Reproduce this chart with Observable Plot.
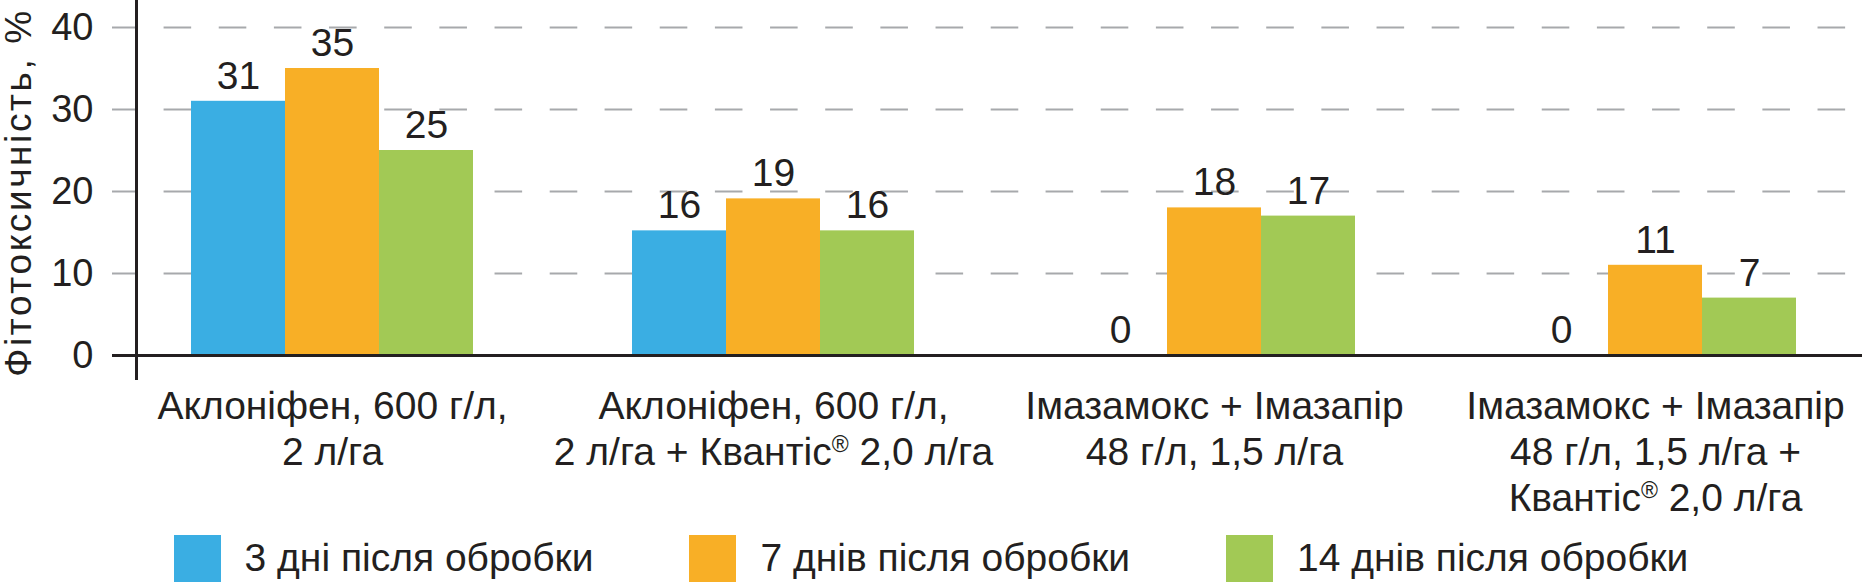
<!DOCTYPE html>
<html>
<head>
<meta charset="utf-8">
<script src="https://cdn.jsdelivr.net/npm/d3@7"></script>
<script src="https://cdn.jsdelivr.net/npm/@observablehq/plot@0.6"></script>
<style>
  html, body { margin: 0; padding: 0; background: #fff; }
  #chart { width: 1862px; }
  .legend {
    display: flex; justify-content: center; align-items: center;
    column-gap: 96px; height: 56px; padding-top: 0px; box-sizing: border-box;
    font-family: "Liberation Sans", Arial, sans-serif; font-size: 39px; color: #231f20;
    width: 1862px;
  }
  .legend .item { display: flex; align-items: center; }
  .legend .sw { width: 47px; height: 47px; margin-right: 24px; }
</style>
</head>
<body>
<div id="chart"></div>
<script>
const groups = [
  "Аклоніфен, 600 г/л,\n2 л/га",
  "Аклоніфен, 600 г/л,\n2 л/га + Квантіс® 2,0 л/га",
  "Імазамокс + Імазапір\n48 г/л, 1,5 л/га",
  "Імазамокс + Імазапір\n48 г/л, 1,5 л/га +\nКвантіс® 2,0 л/га"
];
const series = ["3 дні після обробки", "7 днів після обробки", "14 днів після обробки"];
const colors = ["#3aaee3", "#f8af26", "#a2c955"];

// bar heights
const day3 = [31, 15.2, 0, 0];
const day7 = [35, 19.1, 18, 11];
const day14 = [25, 15.2, 17, 7];
// printed value labels
const day3Labels = [31, 16, 0, 0];
const day7Labels = [35, 19, 18, 11];
const day14Labels = [25, 16, 17, 7];

const yTicks = [0, 10, 20, 30, 40];
const gridTicks = [10, 20, 30, 40];
const yTitle = "Фітотоксичність, %";

const values = [day3, day7, day14];
const labels = [day3Labels, day7Labels, day14Labels];
const data = groups.flatMap((g, i) => series.map((s, j) => ({
  group: g, series: s, value: values[j][i], label: String(labels[j][i])
})));

const font = "'Liberation Sans', Arial, sans-serif";
const ink = "#231f20";
const grey = "#a7a9ac";

const chart = Plot.plot({
  width: 1862,
  height: 530,
  marginLeft: 135,
  marginRight: 11,
  marginTop: 27,
  marginBottom: 175,
  style: {fontFamily: font, fontSize: "39px", color: ink, background: "white", overflow: "visible"},
  fx: {domain: groups, paddingInner: 0.1117, paddingOuter: 0, label: null},
  x: {domain: series, padding: 0, insetLeft: 54, insetRight: 54, axis: null},
  y: {domain: [0, 40], label: null},
  color: {domain: series, range: colors},
  marks: [
    Plot.ruleY(gridTicks, {stroke: grey, strokeWidth: 2, strokeDasharray: "27.58 27.58", strokeDashoffset: 27.58, insetRight: -49.3}),
    Plot.axisY({ticks: yTicks, tickSize: 24, tickPadding: 19, stroke: grey, strokeWidth: 2, fill: ink, fontSize: 38, label: null}),
    Plot.barY(data, {fx: "group", x: "series", y: "value", fill: "series"}),
    Plot.ruleY([0], {stroke: ink, strokeWidth: 3, insetLeft: -24, insetRight: -50}),
    Plot.frame({anchor: "left", facet: "super", stroke: ink, strokeWidth: 3, insetTop: -27, insetBottom: -23}),
    Plot.text(data, {fx: "group", x: "series", y: "value", text: "label", lineAnchor: "middle", dy: -25, fontSize: 39, fill: ink}),
    Plot.axisFx({anchor: "bottom", tickSize: 0, tickPadding: 31, fontSize: 39, lineHeight: 1.18, lineWidth: 100, fill: ink, label: null}),
    Plot.text([yTitle], {facet: "super", frameAnchor: "left", textAnchor: "middle", rotate: -90, dx: -117, dy: 1, fontSize: 37, fill: ink, lineAnchor: "middle", className: "ytitle"})
  ]
});

// letter-spaced y title as in the reference
chart.querySelectorAll(".ytitle text").forEach(t => t.setAttribute("letter-spacing", "2.6"));

// superscript the registered sign
chart.querySelectorAll("text, tspan").forEach(el => {
  Array.from(el.childNodes).forEach(node => {
    if (node.nodeType === 3 && node.nodeValue.includes("®")) {
      const parts = node.nodeValue.split("®");
      const frag = document.createDocumentFragment();
      parts.forEach((p, k) => {
        if (k > 0) {
          const sup = document.createElementNS("http://www.w3.org/2000/svg", "tspan");
          sup.setAttribute("baseline-shift", "super");
          sup.setAttribute("font-size", "23");
          sup.textContent = "®";
          frag.appendChild(sup);
        }
        if (p) frag.appendChild(document.createTextNode(p));
      });
      node.replaceWith(frag);
    }
  });
});

document.getElementById("chart").appendChild(chart);

const legend = document.createElement("div");
legend.className = "legend";
series.forEach((s, i) => {
  const item = document.createElement("div");
  item.className = "item";
  const sw = document.createElement("div");
  sw.className = "sw";
  sw.style.background = colors[i];
  const t = document.createElement("span");
  t.textContent = s;
  item.appendChild(sw);
  item.appendChild(t);
  legend.appendChild(item);
});
document.getElementById("chart").appendChild(legend);
</script>
</body>
</html>
